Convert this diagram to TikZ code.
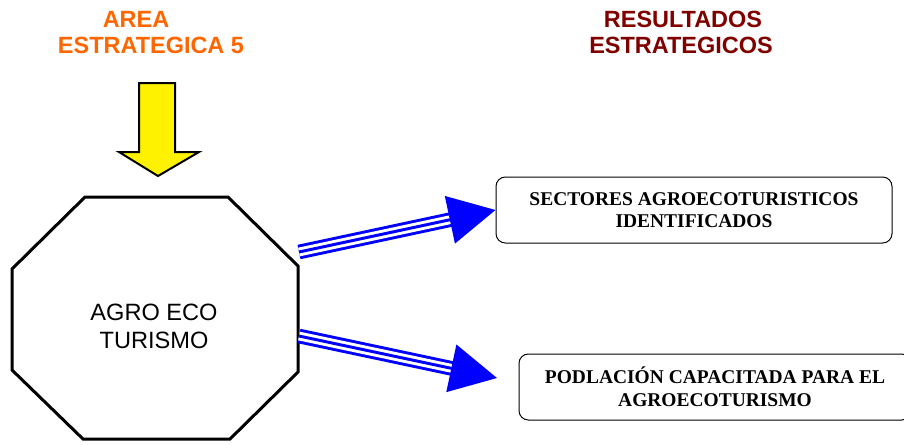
\documentclass[tikz,border=0pt]{standalone}
\usepackage{fontspec}
\setmainfont{Liberation Serif}
\setsansfont{Liberation Sans}
\usetikzlibrary{arrows.meta}
\definecolor{areaorange}{RGB}{255,102,0}
\definecolor{resultred}{RGB}{128,0,0}
\tikzset{every picture/.style={line width=0.75pt}}
\tikzset{
  titletext/.style={inner sep=0pt, anchor=base, font=\sffamily\bfseries\fontsize{17.6}{21}\selectfont},
  resultbox/.style={draw, rounded corners=7pt, minimum height=49.5pt, inner sep=0pt, align=center, font=\bfseries\fontsize{14.6}{17}\selectfont},
  triplearrow/.style={draw=blue, line width=2.2pt, -{Triangle[length=35pt,width=36pt]},
    preaction={draw=blue, line width=11pt, arrows=-, shorten >=31pt},
    preaction={draw=white, line width=6.6pt, arrows=-, shorten >=30pt}},
}

\begin{document}
\begin{tikzpicture}[x=0.75pt,y=0.75pt,yscale=-1,xscale=1]
\useasboundingbox (0,0) rectangle (904,444);

% Text Node
\node [titletext, text=areaorange] (area) at (136,27) {AREA};
% Text Node
\node [titletext, text=areaorange] (estrategica) at (151,53) {ESTRATEGICA 5};
% Text Node
\node [titletext, text=resultred] (resultados) at (683,27) {RESULTADOS};
% Text Node
\node [titletext, text=resultred] (estrategicos) at (681,53) {ESTRATEGICOS};

%Shape: Down Arrow
\draw [fill=yellow, line width=1.5pt, line join=miter] (139,83) -- (175,83) -- (175,152) -- (199,152) -- (158,176) -- (119,152) -- (139,152) -- cycle ;

%Shape: Octagon
\draw [line width=2.25pt] (85,197) -- (228,197) -- (298,266) -- (298,372) -- (230,439) -- (83,439) -- (12,370) -- (12,269) -- cycle ;
% Text Node
\node [align=center, inner sep=0pt, font=\sffamily\fontsize{17.7}{21}\selectfont] (agro) at (154,326) {AGRO ECO\\TURISMO};

%Rounded Rect
\node [resultbox, minimum width=297pt] (sectores) at (694,210) {SECTORES AGROECOTURISTICOS\\IDENTIFICADOS};
%Rounded Rect
\node [resultbox, minimum width=294pt] (poblacion) at (715,387) {PODLACIÓN CAPACITADA PARA EL\\AGROECOTURISMO};

%Straight Lines
\coordinate (upstart) at (299,252);
\draw [triplearrow] (upstart) -- (sectores.west) ;
%Straight Lines
\coordinate (downstart) at (299,336);
\coordinate (downend) at (497,378);
\draw [triplearrow] (downstart) -- (downend) ;

\end{tikzpicture}
\end{document}
